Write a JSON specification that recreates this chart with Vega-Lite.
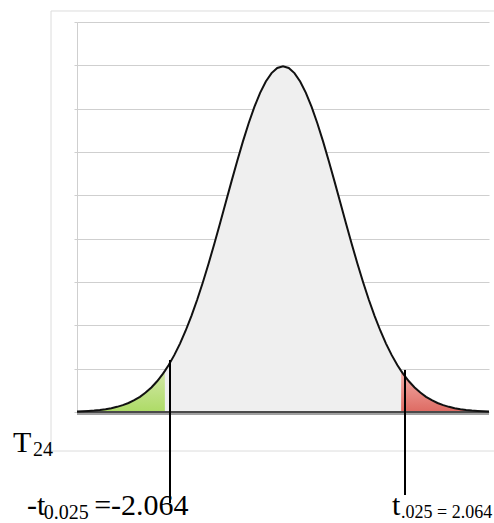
{
  "$schema": "https://vega.github.io/schema/vega-lite/v6.json",
  "width": 412,
  "height": 390,
  "autosize": {"type": "none"},
  "padding": {"left": 77, "top": 22, "right": 5, "bottom": 111},
  "background": "white",
  "config": {"view": {"stroke": null}, "font": "Times New Roman, Liberation Serif, serif"},
  "datasets": {
    "curve": [
      {"x": -3.6, "d": 0.00061, "r": "L"}, {"x": -3.5, "d": 0.00087, "r": "L"}, {"x": -3.4, "d": 0.00123, "r": "L"},
      {"x": -3.3, "d": 0.00172, "r": "L"}, {"x": -3.2, "d": 0.00238, "r": "L"}, {"x": -3.1, "d": 0.00327, "r": "L"},
      {"x": -3.0, "d": 0.00443, "r": "L"}, {"x": -2.9, "d": 0.00595, "r": "L"}, {"x": -2.8, "d": 0.00792, "r": "L"},
      {"x": -2.7, "d": 0.01042, "r": "L"}, {"x": -2.6, "d": 0.01358, "r": "L"}, {"x": -2.5, "d": 0.01753, "r": "L"},
      {"x": -2.4, "d": 0.02239, "r": "L"}, {"x": -2.3, "d": 0.02833, "r": "L"}, {"x": -2.2, "d": 0.03547, "r": "L"},
      {"x": -2.1, "d": 0.04398, "r": "L"}, {"x": -2.064, "d": 0.04741, "r": "L"},
      {"x": -2.064, "d": 0.04741, "r": "M"}, {"x": -2.0, "d": 0.05399, "r": "M"}, {"x": -1.9, "d": 0.06562, "r": "M"},
      {"x": -1.8, "d": 0.07895, "r": "M"}, {"x": -1.7, "d": 0.09405, "r": "M"}, {"x": -1.6, "d": 0.11092, "r": "M"},
      {"x": -1.5, "d": 0.12952, "r": "M"}, {"x": -1.4, "d": 0.14973, "r": "M"}, {"x": -1.3, "d": 0.17137, "r": "M"},
      {"x": -1.2, "d": 0.19419, "r": "M"}, {"x": -1.1, "d": 0.21785, "r": "M"}, {"x": -1.0, "d": 0.24197, "r": "M"},
      {"x": -0.9, "d": 0.26609, "r": "M"}, {"x": -0.8, "d": 0.28969, "r": "M"}, {"x": -0.7, "d": 0.31225, "r": "M"},
      {"x": -0.6, "d": 0.33322, "r": "M"}, {"x": -0.5, "d": 0.35207, "r": "M"}, {"x": -0.4, "d": 0.36827, "r": "M"},
      {"x": -0.3, "d": 0.38139, "r": "M"}, {"x": -0.2, "d": 0.39104, "r": "M"}, {"x": -0.1, "d": 0.39695, "r": "M"},
      {"x": 0.0, "d": 0.39894, "r": "M"}, {"x": 0.1, "d": 0.39695, "r": "M"}, {"x": 0.2, "d": 0.39104, "r": "M"},
      {"x": 0.3, "d": 0.38139, "r": "M"}, {"x": 0.4, "d": 0.36827, "r": "M"}, {"x": 0.5, "d": 0.35207, "r": "M"},
      {"x": 0.6, "d": 0.33322, "r": "M"}, {"x": 0.7, "d": 0.31225, "r": "M"}, {"x": 0.8, "d": 0.28969, "r": "M"},
      {"x": 0.9, "d": 0.26609, "r": "M"}, {"x": 1.0, "d": 0.24197, "r": "M"}, {"x": 1.1, "d": 0.21785, "r": "M"},
      {"x": 1.2, "d": 0.19419, "r": "M"}, {"x": 1.3, "d": 0.17137, "r": "M"}, {"x": 1.4, "d": 0.14973, "r": "M"},
      {"x": 1.5, "d": 0.12952, "r": "M"}, {"x": 1.6, "d": 0.11092, "r": "M"}, {"x": 1.7, "d": 0.09405, "r": "M"},
      {"x": 1.8, "d": 0.07895, "r": "M"}, {"x": 1.9, "d": 0.06562, "r": "M"}, {"x": 2.0, "d": 0.05399, "r": "M"},
      {"x": 2.064, "d": 0.04741, "r": "M"},
      {"x": 2.064, "d": 0.04741, "r": "R"}, {"x": 2.1, "d": 0.04398, "r": "R"}, {"x": 2.2, "d": 0.03547, "r": "R"},
      {"x": 2.3, "d": 0.02833, "r": "R"}, {"x": 2.4, "d": 0.02239, "r": "R"}, {"x": 2.5, "d": 0.01753, "r": "R"},
      {"x": 2.6, "d": 0.01358, "r": "R"}, {"x": 2.7, "d": 0.01042, "r": "R"}, {"x": 2.8, "d": 0.00792, "r": "R"},
      {"x": 2.9, "d": 0.00595, "r": "R"}, {"x": 3.0, "d": 0.00443, "r": "R"}, {"x": 3.1, "d": 0.00327, "r": "R"},
      {"x": 3.2, "d": 0.00238, "r": "R"}, {"x": 3.3, "d": 0.00172, "r": "R"}, {"x": 3.4, "d": 0.00123, "r": "R"},
      {"x": 3.5, "d": 0.00087, "r": "R"}, {"x": 3.6, "d": 0.00061, "r": "R"}
    ],
    "frame": [{"x": -4.054, "x2": 3.95, "y": 0.4627, "y2": -0.045}],
    "rules": [{"x": -1.975, "y": 0.060, "y2": -0.105}, {"x": 2.132, "y": 0.0485, "y2": -0.0958}],
    "labels": [
      {"text": "T", "x": -4.719, "y": -0.0462, "k": "big"},
      {"text": "24", "x": -4.37, "y": -0.0508, "k": "sub"},
      {"text": "-t", "x": -4.474, "y": -0.1188, "k": "big"},
      {"text": "0.025", "x": -4.18, "y": -0.1235, "k": "sub"},
      {"text": "=-2.064", "x": -3.30, "y": -0.1188, "k": "big"},
      {"text": "t", "x": 1.905, "y": -0.1188, "k": "big"},
      {"text": ".025 = 2.064", "x": 2.062, "y": -0.1223, "k": "sub2"}
    ]
  },
  "layer": [
    {
      "data": {"name": "frame"},
      "mark": {"type": "rect", "fillOpacity": 0, "stroke": "#dcdcdc", "strokeWidth": 1, "clip": false},
      "encoding": {
        "x": {"field": "x", "type": "quantitative", "scale": {"domain": [-3.6, 3.6], "nice": false, "zero": false},
              "axis": {"title": null, "labels": false, "ticks": false, "grid": false, "domain": false}},
        "x2": {"field": "x2"},
        "y": {"field": "y", "type": "quantitative", "scale": {"domain": [0, 0.45], "nice": false, "zero": false},
              "axis": {"title": null, "labels": false, "values": [0, 0.05, 0.1, 0.15, 0.2, 0.25, 0.3, 0.35, 0.4, 0.45],
                       "grid": true, "gridColor": "#cfcfcf", "gridWidth": 1, "ticks": true, "tickSize": 3, "tickColor": "#cfcfcf",
                       "domain": true, "domainColor": "#cfcfcf"}},
        "y2": {"field": "y2"}
      }
    },
    {
      "data": {"name": "curve"},
      "transform": [{"filter": "datum.r === 'M'"}],
      "mark": {"type": "area", "color": "#efefef"},
      "encoding": {
        "x": {"field": "x", "type": "quantitative"},
        "y": {"field": "d", "type": "quantitative"}
      }
    },
    {
      "data": {"name": "curve"},
      "transform": [{"filter": "datum.r === 'L'"}],
      "mark": {"type": "area", "color": {"gradient": "linear", "x1": 0, "y1": 0, "x2": 0, "y2": 1,
        "stops": [{"offset": 0, "color": "#d3e8a8"}, {"offset": 1, "color": "#addb66"}]}},
      "encoding": {
        "x": {"field": "x", "type": "quantitative"},
        "y": {"field": "d", "type": "quantitative"}
      }
    },
    {
      "data": {"name": "curve"},
      "transform": [{"filter": "datum.r === 'R'"}],
      "mark": {"type": "area", "color": {"gradient": "linear", "x1": 0, "y1": 0, "x2": 0, "y2": 1,
        "stops": [{"offset": 0, "color": "#f3b0ab"}, {"offset": 1, "color": "#de6a62"}]}},
      "encoding": {
        "x": {"field": "x", "type": "quantitative"},
        "y": {"field": "d", "type": "quantitative"}
      }
    },
    {
      "data": {"name": "frame"},
      "mark": {"type": "rule", "color": "#a0a0a0", "strokeWidth": 2, "yOffset": 2},
      "encoding": {"y": {"datum": 0, "type": "quantitative"}, "x": {"datum": -3.6, "type": "quantitative"}, "x2": {"datum": 3.6}}
    },
    {
      "data": {"name": "frame"},
      "mark": {"type": "rule", "color": "#4a4a4a", "strokeWidth": 2},
      "encoding": {"y": {"datum": 0, "type": "quantitative"}, "x": {"datum": -3.6, "type": "quantitative"}, "x2": {"datum": 3.6}}
    },
    {
      "data": {"name": "curve"},
      "mark": {"type": "line", "color": "#111111", "strokeWidth": 2},
      "encoding": {
        "x": {"field": "x", "type": "quantitative"},
        "y": {"field": "d", "type": "quantitative"},
        "order": {"field": "x"}
      }
    },
    {
      "data": {"name": "rules"},
      "mark": {"type": "rule", "color": "#000000", "strokeWidth": 2, "clip": false},
      "encoding": {
        "x": {"field": "x", "type": "quantitative"},
        "y": {"field": "y", "type": "quantitative"},
        "y2": {"field": "y2"}
      }
    },
    {
      "data": {"name": "labels"},
      "transform": [{"filter": "datum.k === 'big'"}],
      "mark": {"type": "text", "align": "left", "baseline": "alphabetic", "fontSize": 30, "font": "Times New Roman, Liberation Serif, serif", "color": "#000000", "clip": false},
      "encoding": {
        "x": {"field": "x", "type": "quantitative"},
        "y": {"field": "y", "type": "quantitative"},
        "text": {"field": "text"}
      }
    },
    {
      "data": {"name": "labels"},
      "transform": [{"filter": "datum.k === 'sub'"}],
      "mark": {"type": "text", "align": "left", "baseline": "alphabetic", "fontSize": 20, "font": "Times New Roman, Liberation Serif, serif", "color": "#000000", "clip": false},
      "encoding": {
        "x": {"field": "x", "type": "quantitative"},
        "y": {"field": "y", "type": "quantitative"},
        "text": {"field": "text"}
      }
    },
    {
      "data": {"name": "labels"},
      "transform": [{"filter": "datum.k === 'sub2'"}],
      "mark": {"type": "text", "align": "left", "baseline": "alphabetic", "fontSize": 18, "font": "Times New Roman, Liberation Serif, serif", "color": "#000000", "clip": false},
      "encoding": {
        "x": {"field": "x", "type": "quantitative"},
        "y": {"field": "y", "type": "quantitative"},
        "text": {"field": "text"}
      }
    }
  ]
}
